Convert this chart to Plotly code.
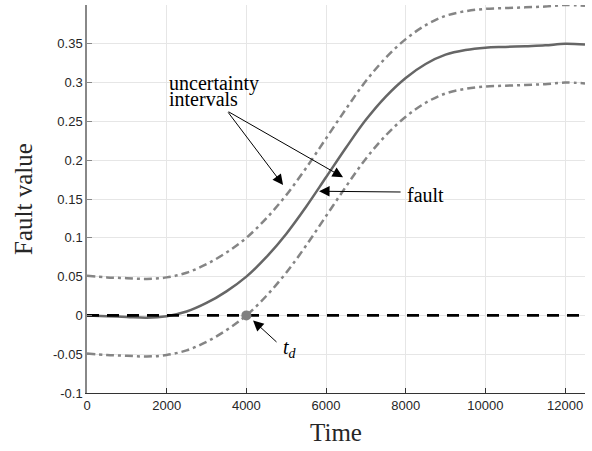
import plotly.graph_objects as go

time = [0, 500, 1000, 1500, 2000, 2500, 3000, 3500, 4000, 4500, 5000, 5500, 6000, 6500, 7000, 7500, 8000, 8500, 9000, 9500, 10000, 10500, 11000, 11500, 12000, 12500]
fault = [0.0, -0.001, -0.002, -0.003, -0.001, 0.005, 0.016, 0.031, 0.050, 0.075, 0.105, 0.140, 0.178, 0.216, 0.252, 0.282, 0.306, 0.324, 0.336, 0.342, 0.345, 0.346, 0.347, 0.348, 0.350, 0.349]
upper = [0.051, 0.049, 0.048, 0.047, 0.049, 0.055, 0.066, 0.081, 0.100, 0.125, 0.155, 0.190, 0.228, 0.266, 0.302, 0.332, 0.356, 0.374, 0.386, 0.392, 0.395, 0.396, 0.397, 0.398, 0.400, 0.399]
lower = [-0.049, -0.051, -0.052, -0.053, -0.051, -0.045, -0.034, -0.019, 0.000, 0.025, 0.055, 0.090, 0.128, 0.166, 0.202, 0.232, 0.256, 0.274, 0.286, 0.292, 0.295, 0.296, 0.297, 0.298, 0.300, 0.299]
zero_x = [0, 12500]
zero_y = [0, 0]
td_x = [4000]
td_y = [0]
x_ticks = [0, 2000, 4000, 6000, 8000, 10000, 12000]
x_tick_text = ["0", "2000", "4000", "6000", "8000", "10000", "12000"]
y_ticks = [-0.1, -0.05, 0, 0.05, 0.1, 0.15, 0.2, 0.25, 0.3, 0.35]
y_tick_text = ["-0.1", "-0.05", "0", "0.05", "0.1", "0.15", "0.2", "0.25", "0.3", "0.35"]

SERIF = "Liberation Serif, DejaVu Serif, serif"
SANS = "Liberation Sans, Arial, sans-serif"

fig = go.Figure()
fig.add_trace(go.Scatter(x=time, y=upper, mode="lines", line=dict(color="#858585", width=2.5, dash="8px,4px,3px,4px", shape="spline"), showlegend=False))
fig.add_trace(go.Scatter(x=time, y=lower, mode="lines", line=dict(color="#858585", width=2.5, dash="8px,4px,3px,4px", shape="spline"), showlegend=False))
fig.add_trace(go.Scatter(x=time, y=fault, mode="lines", line=dict(color="#666666", width=2.5, shape="spline"), showlegend=False))
fig.add_trace(go.Scatter(x=zero_x, y=zero_y, mode="lines", line=dict(color="black", width=2.8, dash="12px,8px"), showlegend=False))
fig.add_trace(go.Scatter(x=td_x, y=td_y, mode="markers", marker=dict(color="#808080", size=10), showlegend=False))

arrow = dict(showarrow=True, arrowhead=2, arrowsize=2.1, arrowwidth=1, arrowcolor="black", axref="x", ayref="y", text="")
fig.add_annotation(x=4921, y=0.168, ax=3515, ay=0.2635, **arrow)
fig.add_annotation(x=6427, y=0.178, ax=3515, ay=0.2635, **arrow)
fig.add_annotation(x=5825, y=0.160, ax=7909, ay=0.159, **arrow)
fig.add_annotation(x=4168, y=-0.0065, ax=4795, ay=-0.036, **arrow)

fig.add_annotation(x=2009, y=0.2983, text="uncertainty", showarrow=False, xanchor="left", yanchor="middle", font=dict(family=SERIF, size=20, color="black"))
fig.add_annotation(x=2009, y=0.2790, text="intervals", showarrow=False, xanchor="left", yanchor="middle", font=dict(family=SERIF, size=20, color="black"))
fig.add_annotation(x=7985, y=0.155, text="fault", showarrow=False, xanchor="left", yanchor="middle", font=dict(family=SERIF, size=20, color="black"))
fig.add_annotation(x=4880, y=-0.043, text="<i>t</i><sub><i>d</i></sub>", showarrow=False, xanchor="left", yanchor="middle", font=dict(family=SERIF, size=20, color="black"))

fig.update_layout(
    width=592, height=451,
    margin=dict(l=87, r=7, t=5, b=58),
    plot_bgcolor="white", paper_bgcolor="white",
    xaxis=dict(range=[0, 12500], tickvals=x_ticks, ticktext=x_tick_text, ticks="inside", ticklen=5, tickcolor="#333",
               showline=True, linecolor="#333", linewidth=1.2, showgrid=True, gridcolor="#e6e6e6",
               zeroline=False, tickfont=dict(family=SANS, size=13, color="#262626"),
               title=dict(text="Time", font=dict(family=SERIF, size=25, color="#262626"), standoff=11)),
    yaxis=dict(range=[-0.1, 0.4], tickvals=y_ticks, ticktext=y_tick_text, ticks="inside", ticklen=5, tickcolor="#888",
               showline=True, linecolor="#888", linewidth=1.5, showgrid=True, gridcolor="#e6e6e6",
               zeroline=False, tickfont=dict(family=SANS, size=13, color="#262626"),
               title=dict(text="Fault value", font=dict(family=SERIF, size=25, color="#262626"), standoff=13)),
)
fig.write_html("out.html")
